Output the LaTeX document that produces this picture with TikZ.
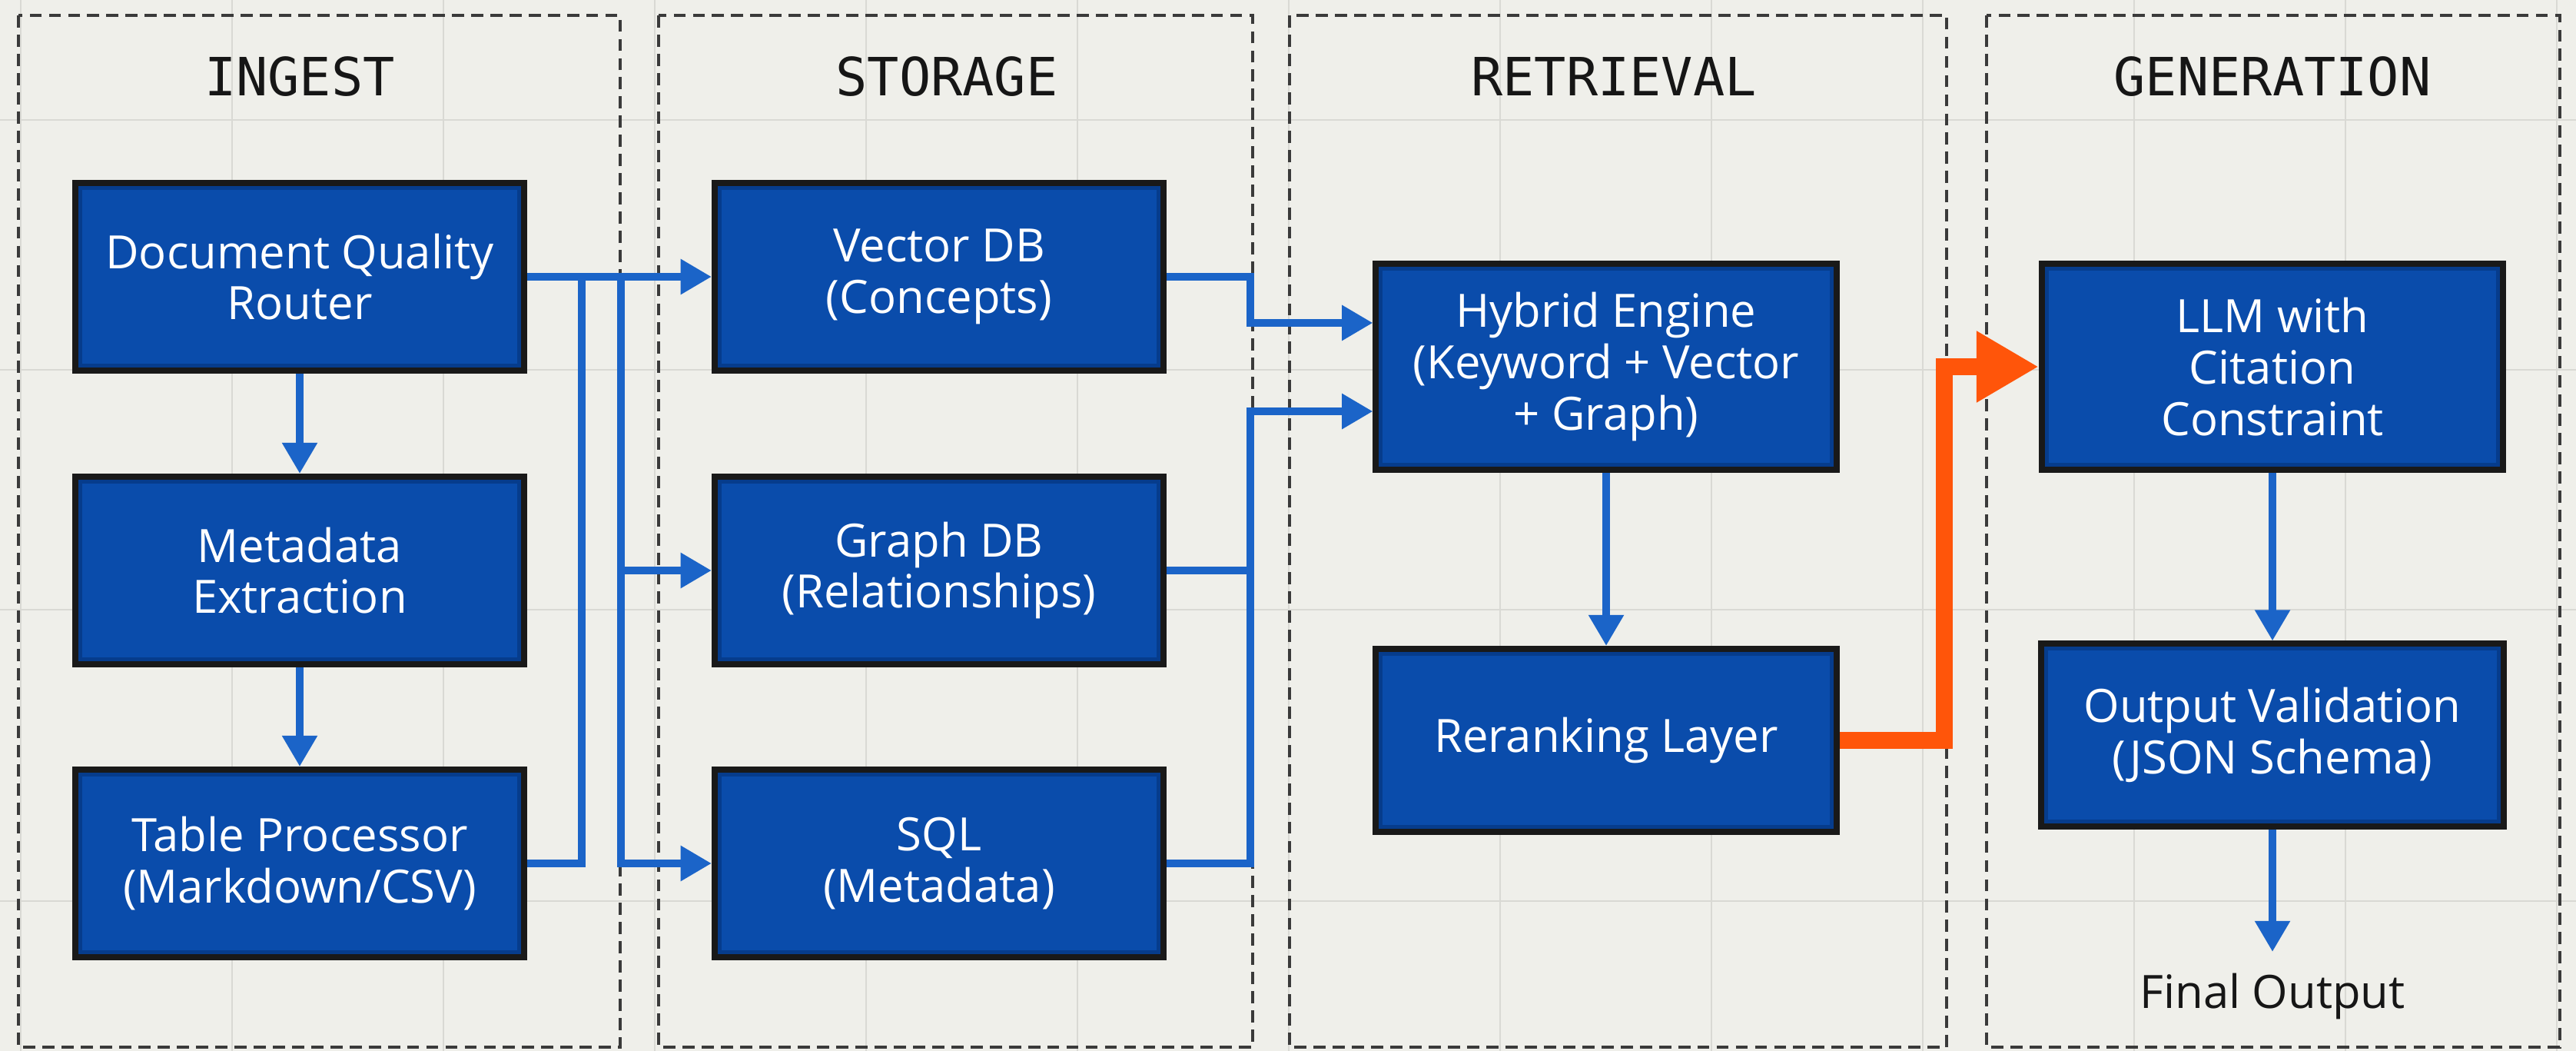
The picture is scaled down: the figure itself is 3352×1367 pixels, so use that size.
\documentclass[tikz,border=0pt]{standalone}
\usepackage{fontspec}
\setmainfont{Open Sans}
\newfontfamily\headfont{DejaVu Sans Mono}
\usetikzlibrary{arrows.meta, calc}

\definecolor{paper}{HTML}{EFEFEA}
\definecolor{gridline}{HTML}{D9D9D4}
\definecolor{boxblue}{HTML}{0A4CAB}
\definecolor{boxrim}{HTML}{063C8C}
\definecolor{flowblue}{HTML}{1B64C8}
\definecolor{hotorange}{HTML}{FF550A}
\definecolor{panelline}{HTML}{3A3A3A}
\definecolor{ink}{HTML}{161616}

\begin{document}
\begin{tikzpicture}[x=0.01cm, y=-0.01cm,
  stage/.style={draw=panelline, line width=0.95pt, dash pattern=on 4.5pt off 2.6pt},
  stagehead/.style={anchor=base, text=ink, inner sep=0pt, font=\headfont\fontsize{19.5}{20}\selectfont},
  proc/.style={draw=black!90, line width=2.3pt, fill=boxblue, text=white, align=center,
    minimum width=5.84cm, minimum height=2.44cm, inner sep=0pt,
    font=\fontsize{17}{19}\selectfont,
    path picture={\draw[boxrim, line width=5pt]
      (path picture bounding box.south west) rectangle (path picture bounding box.north east);}},
  link/.style={draw=flowblue, line width=2.6pt},
  flow/.style={link, -{Triangle[length=11.4pt, width=12.5pt]}},
  hot/.style={draw=hotorange, line width=6.3pt, -{Triangle[length=23pt, width=24.8pt]}},
]
% canvas and background grid
\useasboundingbox (0,0) rectangle (3352,1367);
\fill[paper] (0,0) rectangle (3352,1367);
\foreach \gx in {27,302,...,3327}
  \draw[gridline, line width=0.55pt] (\gx,0) -- (\gx,1367);
\foreach \gy in {156,481,793,1172}
  \draw[gridline, line width=0.55pt] (0,\gy) -- (3352,\gy);

% stage frames
\draw[stage] (24,20) rectangle (807,1362);
\draw[stage] (857,20) rectangle (1630,1362);
\draw[stage] (1678,20) rectangle (2533,1362);
\draw[stage] (2585,20) rectangle (3331,1362);

% stage titles
\node[stagehead] (hIngest) at (390,125) {INGEST};
\node[stagehead] (hStorage) at (1232,125) {STORAGE};
\node[stagehead] (hRetrieval) at (2100,125) {RETRIEVAL};
\node[stagehead] (hGeneration) at (2957,125) {GENERATION};

% ingest
\node[proc] (dqr) at (390,360) {Document Quality\\Router};
\node[proc] (meta) at (390,742) {Metadata\\Extraction};
\node[proc] (table) at (390,1123) {Table Processor\\(Markdown/CSV)};

% storage
\node[proc] (vec) at (1222,360) {Vector DB\\(Concepts)};
\node[proc] (graph) at (1222,742) {Graph DB\\(Relationships)};
\node[proc] (sql) at (1222,1123) {SQL\\(Metadata)};

% retrieval
\node[proc, minimum width=5.99cm, minimum height=2.68cm] (hybrid) at (2090,477)
  {Hybrid Engine\\(Keyword + Vector\\+ Graph)};
\node[proc, minimum width=5.99cm, minimum height=2.38cm] (rerank) at (2090,963) {Reranking Layer};

% generation
\node[proc, minimum width=6.0cm, minimum height=2.68cm] (llm) at (2957,477)
  {LLM with\\Citation\\Constraint};
\node[proc, minimum width=6.02cm, minimum height=2.37cm] (outval) at (2957,956)
  {Output Validation\\(JSON Schema)};
\node[anchor=base, inner sep=0.27cm, text=ink, font=\fontsize{17}{19}\selectfont]
  (final) at (2957,1311) {Final Output};

% bus lines
\coordinate (ibusA) at (757,0);
\coordinate (ibusB) at (808,0);
\coordinate (sbus) at (1627,0);
\coordinate (obus) at (2530,0);
\coordinate (hup) at ([yshift=0.57cm]hybrid.west);
\coordinate (hlo) at ([yshift=-0.58cm]hybrid.west);

% ingest flow
\draw[flow] (dqr.south) -- (meta.north);
\draw[flow] (meta.south) -- (table.north);
\draw[link] (table.east) -- (table.east -| ibusA) -- (dqr.east -| ibusA);
\draw[flow] (dqr.east) -- (vec.west);
\draw[flow] (dqr.east -| ibusB) |- (graph.west);
\draw[flow] (dqr.east -| ibusB) |- (sql.west);

% storage to retrieval
\draw[flow] (vec.east) -- (vec.east -| sbus) |- (hup);
\draw[link] (graph.east) -- (graph.east -| sbus);
\draw[flow] (sql.east) -- (sql.east -| sbus) |- (hlo);

% retrieval
\draw[flow] (hybrid.south) -- (rerank.north);
\draw[hot] (rerank.east) -- (rerank.east -| obus) |- (llm.west);

% generation
\draw[flow] (llm.south) -- (outval.north);
\draw[flow] (outval.south) -- (final.north);
\end{tikzpicture}
\end{document}
